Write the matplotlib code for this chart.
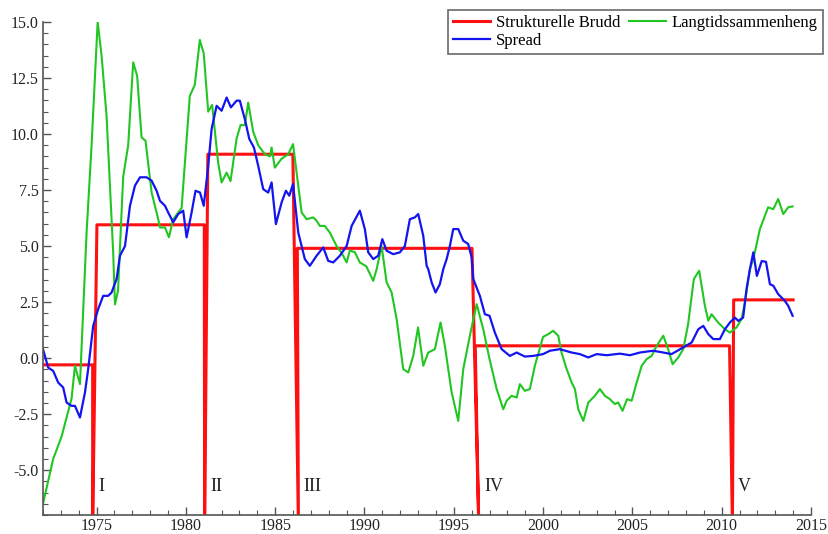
import matplotlib
matplotlib.use('Agg')
import matplotlib.pyplot as plt
from matplotlib.ticker import MultipleLocator, FormatStrFormatter

plt.rcParams['font.family'] = ['Liberation Serif', 'DejaVu Serif']
plt.rcParams['axes.unicode_minus'] = False

# Strukturelle brudd: nivaaer og bruddtidspunkt
levels = [-0.3, 5.95, 9.1, 4.9, 0.55, 2.6]
break_end = [1974.78, 1981.03, 1985.99, 1996.02, 2010.44]
break_low = [1974.78, 1981.05, 1986.30, 1996.40, 2010.60]
break_start = [1975.02, 1981.23, 1986.24, 1996.20, 2010.67]
break_names = ['I', 'II', 'III', 'IV', 'V']
red_first, red_last = 1972.0, 2014.0

# Langtidssammenheng (groenn)
green_x = [1972.0, 1972.57, 1973.04, 1973.6, 1973.79, 1974.07, 1974.35, 1974.44, 1974.72, 1975.06,
           1975.28, 1975.56, 1975.93, 1976.03, 1976.2, 1976.49, 1976.77, 1977.05, 1977.27, 1977.52,
           1977.74, 1978.08, 1978.45, 1978.55, 1978.83, 1979.05, 1979.29, 1979.76, 1980.22, 1980.5,
           1980.78, 1981.0, 1981.25, 1981.47, 1981.81, 1982.0, 1982.28, 1982.5, 1982.84, 1983.06,
           1983.3, 1983.49, 1983.77, 1984.05, 1984.42, 1984.7, 1984.8, 1984.98, 1985.36, 1985.73,
           1986.0, 1986.48, 1986.76, 1987.13, 1987.32, 1987.5, 1987.78, 1988.06, 1988.44, 1988.72,
           1989.0, 1989.18, 1989.46, 1989.74, 1990.1, 1990.49, 1990.68, 1990.96, 1991.24, 1991.52,
           1991.8, 1992.17, 1992.45, 1992.73, 1993.0, 1993.29, 1993.57, 1993.94, 1994.26, 1994.5,
           1994.88, 1995.25, 1995.53, 1995.9, 1996.28, 1996.65, 1997.0, 1997.4, 1997.77, 1997.96,
           1998.24, 1998.52, 1998.7, 1998.98, 1999.26, 1999.54, 2000.0, 2000.29, 2000.57, 2000.85,
           2001.03, 2001.32, 2001.6, 2001.78, 2001.97, 2002.25, 2002.53, 2002.9, 2003.18, 2003.46,
           2003.74, 2004.02, 2004.2, 2004.45, 2004.7, 2004.96, 2005.24, 2005.52, 2005.8, 2006.08,
           2006.36, 2006.73, 2007.0, 2007.25, 2007.57, 2007.85, 2008.12, 2008.44, 2008.74, 2009.06,
           2009.25, 2009.43, 2009.8, 2010.18, 2010.46, 2010.83, 2011.11, 2011.3, 2011.58, 2011.77,
           2012.14, 2012.6, 2012.89, 2013.16, 2013.45, 2013.72, 2013.97]
green_y = [-6.5, -4.5, -3.5, -1.8, -0.34, -1.16, 3.97, 5.6, 9.5, 15.0,
           13.5, 10.8, 4.7, 2.4, 3.0, 8.1, 9.5, 13.2, 12.6, 9.85,
           9.7, 7.4, 6.2, 5.83, 5.83, 5.39, 6.2, 6.7, 11.7, 12.2,
           14.2, 13.6, 11.0, 11.3, 8.7, 7.84, 8.28, 7.9, 9.8, 10.4,
           10.4, 11.4, 10.1, 9.5, 9.1, 9.0, 9.4, 8.5, 8.9, 9.1,
           9.55, 6.5, 6.2, 6.28, 6.13, 5.9, 5.9, 5.6, 5.0, 4.7,
           4.27, 4.8, 4.73, 4.27, 4.1, 3.45, 3.97, 5.0, 3.38, 2.93,
           1.74, -0.49, -0.64, 0.1, 1.37, -0.34, 0.25, 0.4, 1.59, 0.55,
           -1.53, -2.8, -0.49, 1.0, 2.41, 1.29, -0.04, -1.38, -2.28, -1.9,
           -1.68, -1.76, -1.16, -1.46, -1.38, -0.34, 0.95, 1.07, 1.22, 1.0,
           0.25, -0.49, -1.09, -1.38, -2.28, -2.8, -1.98, -1.68, -1.38, -1.68,
           -1.83, -2.05, -1.98, -2.35, -1.83, -1.9, -1.09, -0.34, -0.04, 0.1,
           0.55, 1.0, 0.4, -0.27, 0.03, 0.4, 1.52, 3.53, 3.9, 2.33,
           1.67, 1.96, 1.59, 1.29, 1.14, 1.37, 1.74, 2.49, 3.97, 4.42,
           5.76, 6.73, 6.65, 7.1, 6.43, 6.73, 6.77]

# Spread (blaa)
blue_x = [1972.0, 1972.29, 1972.57, 1972.85, 1973.13, 1973.32, 1973.6, 1973.79, 1974.07, 1974.35,
          1974.53, 1974.81, 1975.09, 1975.37, 1975.65, 1975.84, 1976.12, 1976.31, 1976.59, 1976.87,
          1977.15, 1977.43, 1977.8, 1978.08, 1978.36, 1978.55, 1978.83, 1979.01, 1979.29, 1979.57,
          1979.85, 1980.04, 1980.32, 1980.54, 1980.79, 1981.0, 1981.25, 1981.44, 1981.72, 1982.0,
          1982.28, 1982.52, 1982.84, 1983.02, 1983.3, 1983.55, 1983.81, 1984.05, 1984.33, 1984.61,
          1984.8, 1985.04, 1985.36, 1985.6, 1985.79, 1986.0, 1986.29, 1986.66, 1986.94, 1987.32,
          1987.69, 1987.97, 1988.25, 1988.62, 1989.0, 1989.28, 1989.74, 1990.02, 1990.21, 1990.49,
          1990.77, 1991.0, 1991.24, 1991.61, 1991.98, 1992.26, 1992.54, 1992.82, 1993.01, 1993.29,
          1993.48, 1993.57, 1993.76, 1993.98, 1994.22, 1994.41, 1994.6, 1994.78, 1994.97, 1995.25,
          1995.53, 1995.81, 1996.0, 1996.09, 1996.46, 1996.74, 1997.0, 1997.3, 1997.68, 1998.14,
          1998.52, 1998.98, 1999.45, 2000.0, 2000.38, 2000.94, 2001.6, 2002.06, 2002.53, 2003.0,
          2003.56, 2004.3, 2004.86, 2005.42, 2006.16, 2006.73, 2007.19, 2007.85, 2008.32, 2008.69,
          2008.97, 2009.25, 2009.53, 2009.9, 2010.18, 2010.46, 2010.74, 2010.93, 2011.2, 2011.39,
          2011.58, 2011.77, 2011.97, 2012.24, 2012.48, 2012.7, 2012.89, 2013.16, 2013.53, 2013.72,
          2013.97]
blue_y = [0.4, -0.42, -0.57, -1.09, -1.31, -1.98, -2.13, -2.13, -2.65, -1.53,
          -0.49, 1.44, 2.19, 2.78, 2.78, 2.93, 3.53, 4.57, 5.0, 6.8,
          7.7, 8.07, 8.07, 7.92, 7.47, 7.02, 6.8, 6.5, 6.06, 6.43,
          6.58, 5.39, 6.5, 7.47, 7.39, 6.8, 8.58, 10.22, 11.26, 11.04,
          11.63, 11.19, 11.49, 11.49, 10.67, 9.78, 9.4, 8.58, 7.54, 7.39,
          7.84, 5.98, 6.95, 7.47, 7.25, 7.77, 5.61, 4.42, 4.12, 4.57,
          4.94, 4.34, 4.27, 4.57, 5.0, 5.9, 6.58, 5.76, 4.72, 4.42,
          4.57, 5.31, 4.79, 4.64, 4.72, 5.0, 6.2, 6.28, 6.43, 5.46,
          4.12, 3.97, 3.38, 2.93, 3.3, 3.97, 4.42, 5.0, 5.76, 5.76,
          5.24, 5.09, 4.49, 3.53, 2.78, 1.96, 1.89, 1.14, 0.4, 0.1,
          0.25, 0.07, 0.1, 0.18, 0.33, 0.4, 0.25, 0.18, 0.03, 0.18,
          0.13, 0.2, 0.13, 0.25, 0.33, 0.25, 0.18, 0.48, 0.7, 1.29,
          1.44, 1.07, 0.85, 0.85, 1.29, 1.59, 1.81, 1.66, 1.81, 3.08,
          3.97, 4.72, 3.67, 4.33, 4.3, 3.3, 3.23, 2.86, 2.56, 2.34,
          1.89]

y_min, y_max = -7, 15

# bygg den roede linja: nivaa, fall til bunnen ved brudd, nytt nivaa
red_x = [red_first]
red_y = [levels[0]]
for i in range(len(break_end)):
    red_x += [break_end[i], break_low[i], break_start[i]]
    red_y += [levels[i], y_min - 0.5, levels[i + 1]]
red_x.append(red_last)
red_y.append(levels[-1])

fig = plt.figure(figsize=(8.29, 5.34), dpi=100)
ax = fig.add_axes([43 / 829, 1 - 515 / 534, (811 - 43) / 829, (515 - 22) / 534])

l_red, = ax.plot(red_x, red_y, color='#ff1010', lw=2.2, label='Strukturelle Brudd')
l_green, = ax.plot(green_x, green_y, color='#22c622', lw=1.5, label='Langtidssammenheng')
l_blue, = ax.plot(blue_x, blue_y, color='#1414f0', lw=1.6, label='Spread')

for name, xb in zip(break_names, break_low):
    ax.text(xb + 0.3, -5.75, name, fontsize=13, ha='left', va='center', color='#202020')

ax.set_xlim(1972, 2015)
ax.set_ylim(y_min, y_max)
ax.xaxis.set_major_locator(MultipleLocator(5))
ax.xaxis.set_minor_locator(MultipleLocator(1))
ax.yaxis.set_major_locator(MultipleLocator(2.5))
ax.yaxis.set_minor_locator(MultipleLocator(0.5))
ax.yaxis.set_major_formatter(FormatStrFormatter('%.1f'))

for s in ['top', 'right']:
    ax.spines[s].set_visible(False)
for s in ['left', 'bottom']:
    ax.spines[s].set_color('#555555')
    ax.spines[s].set_linewidth(1.2)
ax.tick_params(which='both', direction='in', colors='#555555', labelcolor='#222222', labelsize=11.5)
ax.tick_params(which='major', length=6, width=1.0)
ax.tick_params(which='minor', length=3.5, width=0.8)
ax.tick_params(axis='x', pad=2)
ax.tick_params(axis='y', pad=3)

leg = ax.legend([l_red, l_blue, l_green],
                ['Strukturelle Brudd', 'Spread', 'Langtidssammenheng'],
                ncol=2, loc='upper right', bbox_to_anchor=(823 / 829, 1 - 10 / 534),
                bbox_transform=fig.transFigure, fontsize=12, frameon=True, fancybox=False,
                handlelength=2.2, handletextpad=0.35, columnspacing=0.55, labelspacing=0.1,
                borderpad=0.3, borderaxespad=0)
leg.get_frame().set_edgecolor('#444444')
leg.get_frame().set_linewidth(1.2)

fig.savefig('out.png', dpi=100)
